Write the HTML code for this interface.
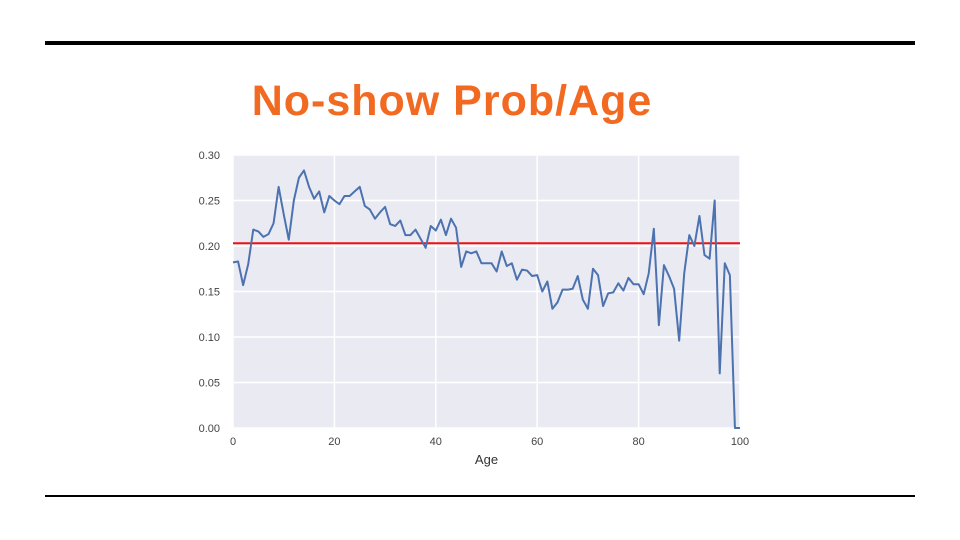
<!DOCTYPE html>
<html><head><meta charset="utf-8"><style>
body{margin:0;width:960px;height:540px;background:#fff;overflow:hidden;font-family:"Liberation Sans",sans-serif}
.rule{position:absolute;left:45px;width:870px;background:#000}
#title{position:absolute;left:0;width:904px;top:77px;text-align:center;font-size:43px;letter-spacing:1px;font-weight:bold;color:#f26a22}
svg{position:absolute;left:0;top:0}
</style></head><body>
<div class="rule" style="top:41px;height:4px"></div>
<div class="rule" style="top:495px;height:2px"></div>
<div id="title">No-show Prob/Age</div>
<svg id="chart" width="960" height="540"></svg>
<script>
const ages=[];for(let i=0;i<=100;i++)ages.push(i);
const probs=[0.182,0.183,0.157,0.18,0.218,0.216,0.21,0.213,0.225,0.265,0.235,0.207,0.25,0.275,0.283,0.265,0.252,0.26,0.237,0.255,0.25,0.246,0.255,0.255,0.26,0.265,0.244,0.24,0.23,0.237,0.243,0.224,0.222,0.228,0.212,0.212,0.218,0.208,0.198,0.222,0.217,0.229,0.212,0.23,0.22,0.177,0.194,0.192,0.194,0.181,0.181,0.181,0.172,0.194,0.178,0.181,0.163,0.174,0.173,0.167,0.168,0.15,0.161,0.131,0.138,0.152,0.152,0.153,0.167,0.141,0.131,0.175,0.168,0.134,0.148,0.149,0.159,0.151,0.165,0.158,0.158,0.147,0.17,0.219,0.113,0.179,0.167,0.153,0.096,0.17,0.212,0.2,0.233,0.19,0.186,0.25,0.06,0.181,0.168,0.0,0.0];
const meanProb=[0.203];
const yTicks=[0,0.05,0.10,0.15,0.20,0.25,0.30];
const xTicks=[0,20,40,60,80,100];
const L=233,R=740,T=155,B=428;
const xs=v=>L+(v-0)/100*(R-L);
const ys=v=>B-(v/0.30)*(B-T);
const svg=document.getElementById('chart');const NS='http://www.w3.org/2000/svg';
function mk(t,a){const e=document.createElementNS(NS,t);for(const k in a)e.setAttribute(k,a[k]);svg.appendChild(e);return e;}
let bg=mk('rect',{x:L,y:T,width:R-L,height:B-T,fill:'#eaeaf2'});


yTicks.forEach(v=>{const g=mk('line',{x1:L,x2:R,y1:ys(v),y2:ys(v),stroke:'#fff','stroke-width':1.5});


const t=mk('text',{x:L-13,y:ys(v)+4,'text-anchor':'end','font-size':11,fill:'#444'});t.textContent=v.toFixed(2);

});
xTicks.forEach(v=>{const g=mk('line',{x1:xs(v),x2:xs(v),y1:T,y2:B,stroke:'#fff','stroke-width':1.5});


const t=mk('text',{x:xs(v),y:B+17,'text-anchor':'middle','font-size':11,fill:'#444'});t.textContent=v;

});
const xl=mk('text',{x:(L+R)/2,y:B+36,'text-anchor':'middle','font-size':13,fill:'#333'});xl.textContent='Age';


const ml=mk('line',{x1:L,x2:R,y1:ys(meanProb[0]),y2:ys(meanProb[0]),stroke:'#f01010','stroke-width':2});


const p=mk('polyline',{points:probs.map((v,i)=>xs(ages[i])+','+ys(v)).join(' '),fill:'none',stroke:'#4c72b0','stroke-width':2,'stroke-linejoin':'round'});


</script>
</body></html>
